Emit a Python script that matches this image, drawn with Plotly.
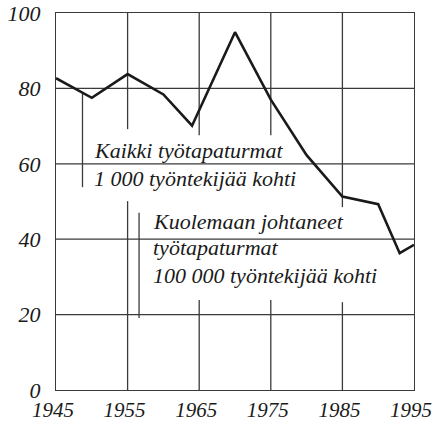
import plotly.graph_objects as go

years = [1945, 1950, 1955, 1960, 1964, 1970, 1975, 1980, 1985, 1990, 1993, 1995]
values = [82.7, 77.5, 83.8, 78.4, 70.1, 94.9, 77.0, 62.3, 51.3, 49.3, 36.3, 38.5]

x_ticks = [1945, 1955, 1965, 1975, 1985, 1995]
y_ticks = [0, 20, 40, 60, 80, 100]

label1 = ["Kaikki työtapaturmat", "1 000 työntekijää kohti"]
label2 = ["Kuolemaan johtaneet", "työtapaturmat", "100 000 työntekijää kohti"]

FONT = "Liberation Serif"
GRID = "#3a3a3a"
TXT = "#1a1a1a"

fig = go.Figure()
fig.add_trace(go.Scatter(x=years, y=values, mode="lines",
                         line=dict(color=TXT, width=2.6), hoverinfo="skip"))

# vertical gridlines interrupted behind the labels, plus leader lines
vsegs = [
    (1955, 100, 69.2), (1955, 50.1, 0),
    (1965, 100, 67.6), (1965, 23.9, 0),
    (1975, 100, 67.6), (1975, 23.9, 0),
    (1985, 100, 48.5), (1985, 23.3, 0),
    (1948.7, 78.6, 53.8),
    (1956.6, 47.0, 19.1),
]
shapes = []
for x, y0, y1 in vsegs:
    shapes.append(dict(type="line", xref="x", yref="y", x0=x, x1=x, y0=y0, y1=y1,
                       line=dict(color=GRID, width=1.3), layer="below"))
for y in [20, 40, 60, 80]:
    shapes.append(dict(type="line", xref="x", yref="y", x0=1945, x1=1995, y0=y, y1=y,
                       line=dict(color=GRID, width=1.3), layer="below"))

afont = dict(family=FONT, size=22, color=TXT, style="italic")
annotations = []
for i, t in enumerate(label1):
    annotations.append(dict(x=1950.0, y=[63.4, 56.2][i], xref="x", yref="y", text=t,
                            showarrow=False, xanchor="left", yanchor="middle", font=afont))
for i, t in enumerate(label2):
    annotations.append(dict(x=1958.2, y=[44.8, 37.7, 30.5][i], xref="x", yref="y", text=t,
                            showarrow=False, xanchor="left", yanchor="middle", font=afont))

yfont = dict(family=FONT, size=22, color=TXT, style="italic")
xfont = dict(family=FONT, size=21, color=TXT, style="italic")
fig.update_layout(
    width=433, height=424,
    margin=dict(l=56, r=19, t=13, b=34, autoexpand=False),
    paper_bgcolor="white", plot_bgcolor="white",
    showlegend=False,
    shapes=shapes, annotations=annotations,
    xaxis=dict(range=[1945, 1995], tickvals=x_ticks, ticktext=[str(v) for v in x_ticks],
               showgrid=False, zeroline=False, showline=True, mirror=True, automargin=False,
               linecolor=GRID, linewidth=1.3, ticks="", ticklabelstandoff=1,
               ticklabelshift=-3, tickfont=xfont),
    yaxis=dict(range=[0, 100], tickvals=y_ticks, ticktext=[str(v) for v in y_ticks],
               showgrid=False, zeroline=False, showline=True, mirror=True, automargin=False,
               linecolor=GRID, linewidth=1.3, ticks="", ticklabelstandoff=10,
               tickfont=yfont),
)

fig.write_html("out.html", config={"displayModeBar": False},
               post_script="document.body.style.margin='0';")
